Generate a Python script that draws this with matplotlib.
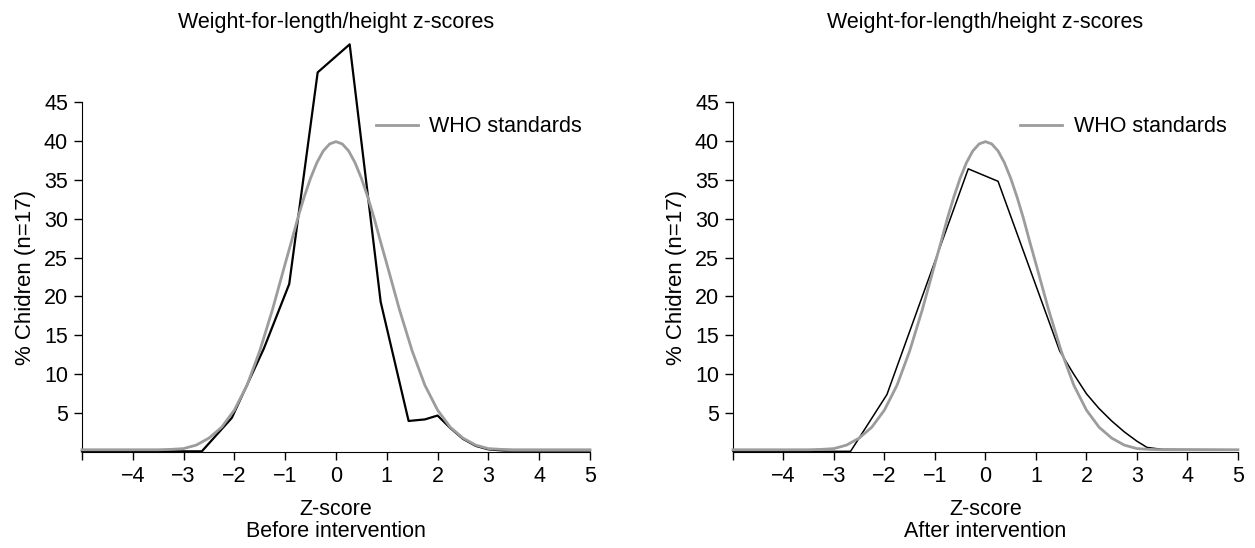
import matplotlib

matplotlib.use("Agg")
import matplotlib.pyplot as plt

plt.rcParams["font.family"] = ["Liberation Sans", "DejaVu Sans"]

# WHO reference curve (% of children per z-score)
who_z = [-5.0, -4.0, -3.5, -3.25, -3.0, -2.75, -2.5, -2.25, -2.0, -1.75, -1.5,
         -1.25, -1.0, -0.875, -0.75, -0.625, -0.5, -0.375, -0.25, -0.125, 0.0,
         0.125, 0.25, 0.375, 0.5, 0.625, 0.75, 0.875, 1.0, 1.25, 1.5, 1.75,
         2.0, 2.25, 2.5, 2.75, 3.0, 3.25, 3.5, 4.0, 5.0]
who_pct = [0.3, 0.3, 0.3, 0.35, 0.45, 0.9, 1.8, 3.2, 5.4, 8.6, 13.0,
           18.3, 24.2, 27.1, 30.1, 32.8, 35.2, 37.2, 38.7, 39.6, 39.9,
           39.6, 38.7, 37.2, 35.2, 32.8, 30.1, 27.1, 24.2, 18.3, 13.0, 8.6,
           5.4, 3.2, 1.8, 0.9, 0.45, 0.35, 0.3, 0.3, 0.3]

# study children, before intervention
before_z = [-5.0, -2.64, -2.05, -1.42, -0.92, -0.36, 0.27, 0.88, 1.43, 1.75,
            2.0, 2.25, 2.5, 2.75, 3.0, 3.3, 5.0]
before_pct = [0.1, 0.1, 4.4, 13.3, 21.6, 48.8, 52.4, 19.3, 4.0, 4.2,
              4.7, 3.1, 1.7, 0.8, 0.35, 0.2, 0.2]

# study children, after intervention
after_z = [-5.0, -2.67, -1.95, -0.34, 0.25, 1.47, 1.75, 2.0, 2.25, 2.5,
           2.75, 3.0, 3.2, 3.5, 5.0]
after_pct = [0.1, 0.1, 7.4, 36.4, 34.8, 13.0, 10.0, 7.5, 5.6, 4.0,
             2.6, 1.4, 0.6, 0.35, 0.3]

x_ticks = [-5, -4, -3, -2, -1, 0, 1, 2, 3, 4, 5]
y_ticks = [5, 10, 15, 20, 25, 30, 35, 40, 45]
title = "Weight-for-length/height z-scores"
ylabel = "% Chidren (n=17)"

fig = plt.figure(figsize=(12.55, 5.48), dpi=100)
ax1 = fig.add_axes([0.0653, 0.175, 0.4048, 0.639])
ax2 = fig.add_axes([0.584, 0.175, 0.4024, 0.639])

panels = [
    (ax1, before_z, before_pct, 1.6, "Before intervention", (0.578, 0.929)),
    (ax2, after_z, after_pct, 1.1, "After intervention", (0.568, 0.929)),
]

for ax, z, pct, lw, caption, leg_pos in panels:
    ax.plot(z, pct, color="black", lw=lw, clip_on=False, zorder=2)
    ax.plot(who_z, who_pct, color="#9c9c9c", lw=2.0, label="WHO standards",
            clip_on=False, zorder=3)
    ax.set_xlim(-5, 5)
    ax.set_ylim(0, 45)
    ax.set_xticks(x_ticks)
    ax.set_xticklabels([""] + [f"{t}".replace("-", "\u2212") for t in x_ticks[1:]])
    ax.set_yticks(y_ticks)
    ax.tick_params(direction="out", length=6, width=1, labelsize=15.5, pad=4)
    for side in ("top", "right"):
        ax.spines[side].set_visible(False)
    ax.set_ylabel(ylabel, fontsize=16, labelpad=6)
    ax.set_xlabel("Z-score\n" + caption, fontsize=15.5, labelpad=9,
                  linespacing=1.05)
    ax.set_title(title, fontsize=15.5, pad=53)
    ax.legend(loc="center left", bbox_to_anchor=leg_pos, frameon=False,
              fontsize=15.5, handlelength=1.95, handletextpad=0.55,
              borderaxespad=0, borderpad=0)

fig.savefig("out.png", dpi=100)
